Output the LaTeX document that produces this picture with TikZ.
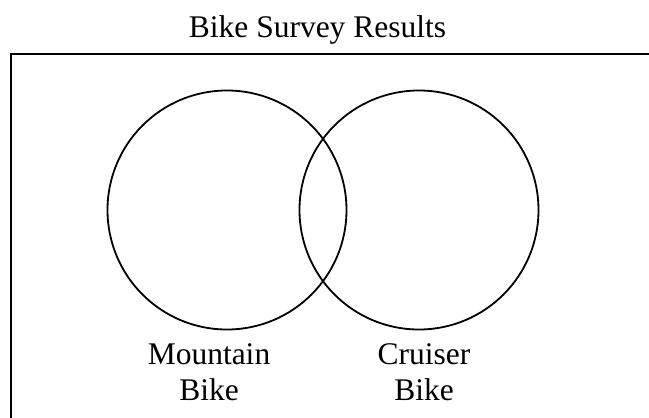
\documentclass[tikz,border=0pt]{standalone}
\usepackage{fontspec}
\setmainfont{Liberation Serif}
\usepackage{tikz}
\usetikzlibrary{positioning}
\tikzset{
  frame/.style={
    draw=black,
    line width=2pt
  },
  conjunto/.style={
    circle,
    draw=black,
    line width=1.8pt,
    minimum size=239pt,
    inner sep=0pt
  },
  etiqueta/.style={
    align=center,
    inner sep=0pt,
    anchor=north,
    font=\fontsize{31.5}{36}\selectfont
  },
  titulo/.style={
    inner sep=0pt,
    anchor=base,
    font=\fontsize{31.5}{36}\selectfont
  }
}

\begin{document}
\begin{tikzpicture}[x=1pt,y=-1pt]
\useasboundingbox (0,0) rectangle (649,418);
\clip (0,0) rectangle (649,418);
\draw[frame] (11,54) rectangle (670,440);
\node[titulo] (title) at (317.5,37) {Bike Survey Results};
\node[conjunto] (mountain) at (227,210) {};
\node[conjunto] (cruiser) at (419,210) {};
\node[etiqueta] (mlabel) at (209,343) {Mountain\\Bike};
\node[etiqueta] (clabel) at (424,343) {Cruiser\\Bike};
\end{tikzpicture}
\end{document}
